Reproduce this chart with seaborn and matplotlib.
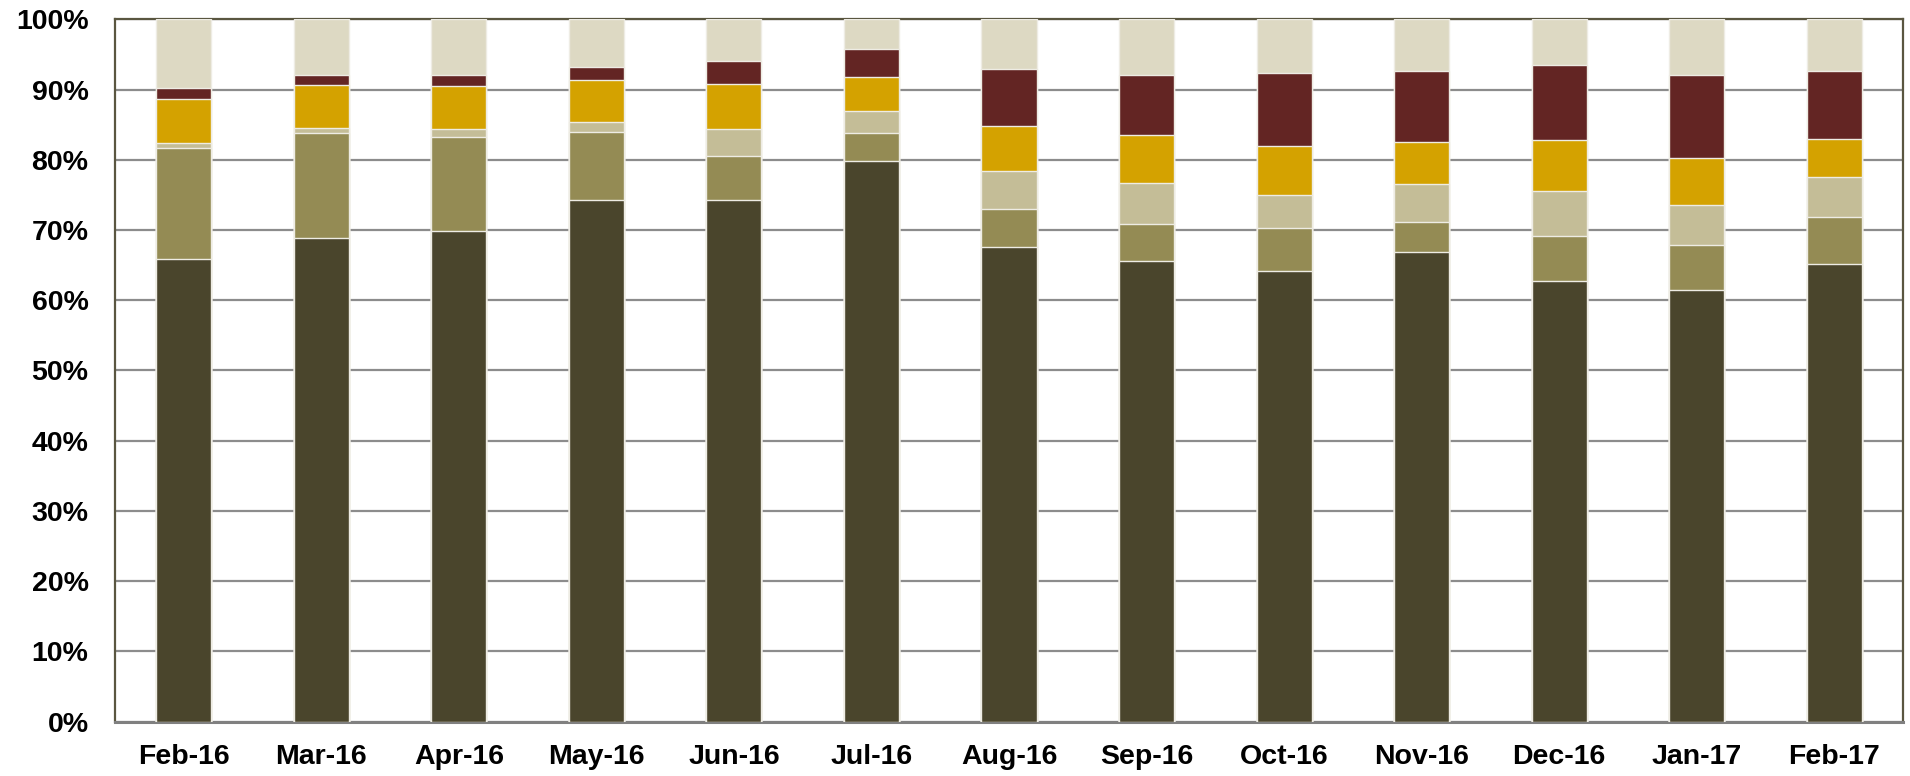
import matplotlib
matplotlib.use("Agg")
import matplotlib.pyplot as plt
import seaborn as sns
import pandas as pd
import numpy as np
from matplotlib.ticker import FuncFormatter

months = ["Feb-16", "Mar-16", "Apr-16", "May-16", "Jun-16", "Jul-16", "Aug-16",
          "Sep-16", "Oct-16", "Nov-16", "Dec-16", "Jan-17", "Feb-17"]

# segment shares (%) from bottom to top
s1_dark   = [65.8, 68.9, 69.8, 74.3, 74.2, 79.8, 67.6, 65.6, 64.1, 66.9, 62.7, 61.5, 65.1]
s2_olive  = [15.9, 14.9, 13.5,  9.7,  6.4,  4.0,  5.4,  5.3,  6.2,  4.3,  6.5,  6.3,  6.8]
s3_tan    = [ 0.7,  0.7,  1.1,  1.4,  3.8,  3.2,  5.4,  5.8,  4.7,  5.4,  6.4,  5.8,  5.7]
s4_yellow = [ 6.2,  6.2,  6.1,  6.0,  6.4,  4.8,  6.4,  6.8,  7.0,  5.9,  7.2,  6.7,  5.4]
s5_red    = [ 1.6,  1.3,  1.6,  1.8,  3.3,  3.9,  8.1,  8.5, 10.4, 10.2, 10.7, 11.7,  9.6]
s6_beige  = [ 9.8,  8.0,  7.9,  6.8,  5.9,  4.3,  7.1,  8.0,  7.6,  7.3,  6.5,  8.0,  7.4]

series = [s1_dark, s2_olive, s3_tan, s4_yellow, s5_red, s6_beige]
colors = ["#4A452C", "#948B54", "#C4BD97", "#D4A200", "#632523", "#DDD9C3"]

sns.set_theme(style="white")
plt.rcParams["font.family"] = ["Liberation Sans", "DejaVu Sans"]

fig = plt.figure(figsize=(19.1, 7.76), dpi=100)
ax = fig.add_axes([115 / 1910, 1 - 721.5 / 776, (1903 - 115) / 1910, (721.5 - 19.3) / 776])

cum = np.cumsum(np.array(series), axis=0)
for i in range(len(series) - 1, -1, -1):
    df = pd.DataFrame({"month": months, "value": cum[i]})
    sns.barplot(data=df, x="month", y="value", order=months, color=colors[i],
                width=0.4, edgecolor="#EEECE4", linewidth=1.0, saturation=1,
                errorbar=None, ax=ax, zorder=3)

ax.set_ylim(0, 100)
ax.set_xlim(-0.5, len(months) - 0.5)
ax.set_yticks(np.arange(0, 101, 10))
ax.yaxis.set_major_formatter(FuncFormatter(lambda v, p: f"{int(v)}%"))
ax.set_xlabel("")
ax.set_ylabel("")
ax.grid(axis="y", color="#8C8C8C", linewidth=1.6, zorder=0)
ax.set_axisbelow(True)
ax.tick_params(axis="both", length=0, labelsize=20.5, colors="black")
ax.tick_params(axis="y", pad=19)
ax.tick_params(axis="x", pad=16)
for lab in ax.get_xticklabels() + ax.get_yticklabels():
    lab.set_fontweight("bold")

for side in ["left", "top", "right"]:
    ax.spines[side].set_visible(True)
    ax.spines[side].set_color("#5A5640")
    ax.spines[side].set_linewidth(1.6)
ax.spines["bottom"].set_color("#808080")
ax.spines["bottom"].set_linewidth(2.2)

fig.savefig("out.png", dpi=100)
